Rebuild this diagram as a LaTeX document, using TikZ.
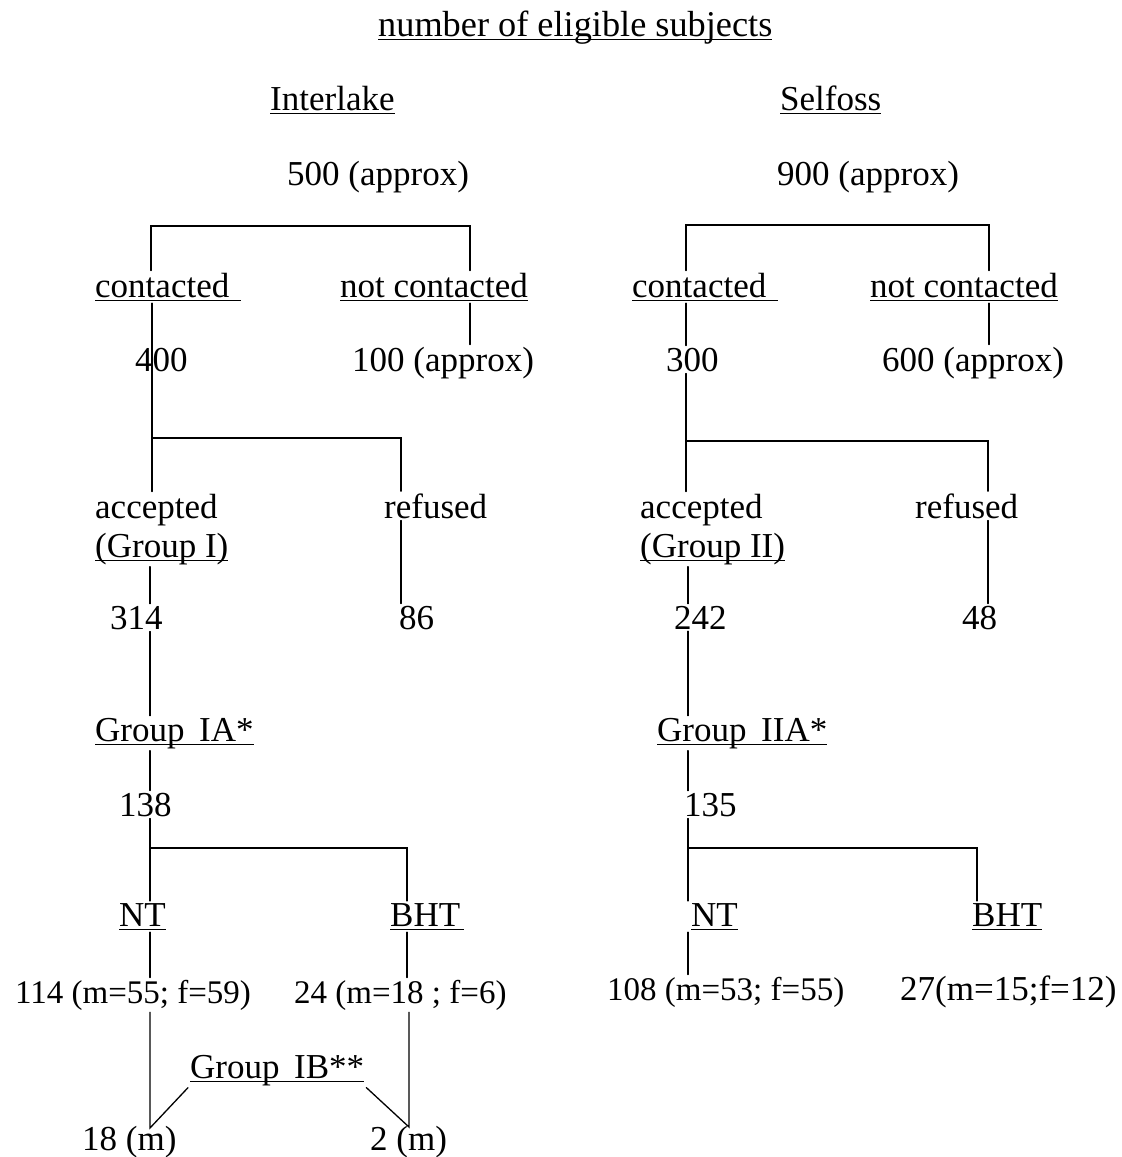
\documentclass[tikz,border=0pt]{standalone}
\usepackage{fontspec}
\setmainfont{Liberation Serif}
\newcommand\myul[1]{\setbox0\hbox{#1}\rlap{\rule[-4pt]{\wd0}{1.3pt}}\box0}
\begin{document}
\begin{tikzpicture}[x=1pt,y=-1pt,
  every node/.style={inner sep=2pt,font=\fontsize{35}{38}\selectfont},
  lbl/.style={anchor=base west},
  sm/.style={font=\fontsize{33}{36}\selectfont},
  ln/.style={line width=1.3pt,line cap=round}]
\useasboundingbox[fill=white] (0,0) rectangle (1122,1157);
% headers
\node[lbl,font=\fontsize{36.3}{40}\selectfont] (title) at (376,36) {\myul{number of eligible subjects}};
\node[lbl] (inter) at (268,110) {\myul{Interlake}};
\node[lbl] (self) at (778,110) {\myul{Selfoss}};
\node[lbl] (n500) at (285,185) {500 (approx)};
\node[lbl] (n900) at (775,185) {900 (approx)};
% ---------- left tree ----------
\node[lbl] (cL) at (93,297) {\myul{contacted\hspace{12pt}}};
\node[lbl] (ncL) at (338,297) {\myul{not contacted}};
\node[lbl] (n400) at (133,371) {400};
\node[lbl] (n100) at (350,371) {100 (approx)};
\node[lbl] (accL) at (93,518) {accepted};
\node[lbl] (g1) at (93,557) {\myul{(Group I)}};
\node[lbl] (refL) at (382,518) {refused};
\node[lbl] (n314) at (108,629) {314};
\node[lbl] (n86) at (397,629) {86};
\node[lbl] (gIA) at (93,741) {\myul{Group\ \,IA*}};
\node[lbl] (n138) at (117,816) {138};
\node[lbl] (ntL) at (117,926) {\myul{NT}};
\node[lbl] (bhtL) at (388,926) {\myul{BHT\hspace{4pt}}};
\node[lbl,sm] (n114) at (13,1003) {114 (m=55; f=59)};
\node[lbl,sm] (n24) at (292,1003) {24 (m=18 ; f=6)};
\node[lbl] (gIB) at (188,1078) {\myul{Group\ \,IB**}};
\node[lbl] (m18) at (80,1150) {18 (m)};
\node[lbl] (m2) at (368,1150) {2 (m)};
% coordinates left
\coordinate (a1) at (151,226);
\coordinate (a2) at (470,226);
\coordinate (b1) at (152,438);
\coordinate (b2) at (401,438);
\coordinate (c1) at (150,848);
\coordinate (c2) at (407,848);
\coordinate (jL) at (150,1128);
\coordinate (jR) at (409,1127);
% connectors left
\draw[ln] (a1 |- cL.north) -- (a1) -- (a2) -- (a2 |- ncL.north);
\draw[ln] (b1 |- cL.south) -- (b1) -- (b1 |- accL.north);
\draw[ln] (b1) -- (b2) -- (b2 |- refL.north);
\draw[ln] (a2 |- ncL.south) -- (a2 |- n100.north);
\draw[ln] (c1 |- g1.south) -- (c1 |- n314.north);
\draw[ln] (b2 |- refL.south) -- (b2 |- n86.north);
\draw[ln] (c1 |- n314.south) -- (c1 |- gIA.north);
\draw[ln] (c1 |- gIA.south) -- (c1 |- n138.north);
\draw[ln] (c1 |- n138.south) -- (c1) -- (c1 |- ntL.north);
\draw[ln] (c1) -- (c2) -- (c2 |- bhtL.north);
\draw[ln] (c1 |- ntL.south) -- (c1 |- n114.north);
\draw[ln] (c2 |- bhtL.south) -- (c2 |- n24.north);
\draw[ln] (jL |- n114.south) -- (jL) -- (gIB.south west);
\draw[ln] (jR |- n24.south) -- (jR) -- (gIB.south east);
% ---------- right tree ----------
\node[lbl] (cR) at (630,297) {\myul{contacted\hspace{12pt}}};
\node[lbl] (ncR) at (868,297) {\myul{not contacted}};
\node[lbl] (n300) at (664,371) {300};
\node[lbl] (n600) at (880,371) {600 (approx)};
\node[lbl] (accR) at (638,518) {accepted};
\node[lbl] (g2) at (638,557) {\myul{(Group II)}};
\node[lbl] (refR) at (913,518) {refused};
\node[lbl] (n242) at (672,629) {242};
\node[lbl] (n48) at (960,629) {48};
\node[lbl] (gIIA) at (655,741) {\myul{Group\ \,IIA*}};
\node[lbl] (n135) at (682,816) {135};
\node[lbl] (ntR) at (689,926) {\myul{NT}};
\node[lbl] (bhtR) at (970,926) {\myul{BHT}};
\node[lbl,sm] (n108) at (605,1000) {108 (m=53; f=55)};
\node[lbl] (n27) at (898,1000) {27(m=15;f=12)};
% coordinates right
\coordinate (d1) at (686,225);
\coordinate (d2) at (989,225);
\coordinate (e1) at (686,441);
\coordinate (e2) at (988,441);
\coordinate (f1) at (688,848);
\coordinate (f2) at (977,848);
% connectors right
\draw[ln] (d1 |- cR.north) -- (d1) -- (d2) -- (d2 |- ncR.north);
\draw[ln] (d1 |- cR.south) -- (d1 |- n300.north);
\draw[ln] (d2 |- ncR.south) -- (d2 |- n600.north);
\draw[ln] (e1 |- n300.south) -- (e1) -- (e1 |- accR.north);
\draw[ln] (e1) -- (e2) -- (e2 |- refR.north);
\draw[ln] (f1 |- g2.south) -- (f1 |- n242.north);
\draw[ln] (e2 |- refR.south) -- (e2 |- n48.north);
\draw[ln] (f1 |- n242.south) -- (f1 |- gIIA.north);
\draw[ln] (f1 |- gIIA.south) -- (f1 |- n135.north);
\draw[ln] (f1 |- n135.south) -- (f1) -- (f1 |- ntR.north);
\draw[ln] (f1) -- (f2) -- (f2 |- bhtR.north);
\draw[ln] (f1 |- ntR.south) -- (f1 |- n108.north);
\end{tikzpicture}
\end{document}
